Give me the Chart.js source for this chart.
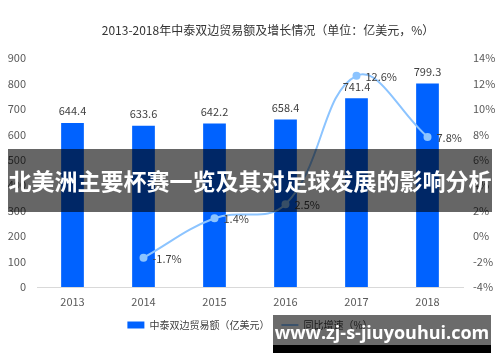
<!DOCTYPE html>
<html>
<head>
    <title>中泰双边贸易额</title>
    <script src="https://cdn.jsdelivr.net/npm/chart.js"></script>
    <style>
        body { margin: 0; background: #fff; font-family: "Noto Sans CJK SC", sans-serif; }
        #wrap { position: relative; width: 500px; height: 362px; }
        #title { position: absolute; left: 0; width: 536px; top: 21px; text-align: center;
                 font-size: 12px; color: #333; }
        #banner { position: absolute; left: 8px; top: 149px; width: 484px; height: 63px;
                  background: rgba(0,0,0,0.6); color: #fff; font-weight: bold; font-size: 23px;
                  line-height: 63px; text-align: center; white-space: nowrap; }
        #mark { position: absolute; left: 273px; top: 315px; width: 218px; height: 30px;
                background: rgba(0,0,0,0.58); }
        #markText { position: absolute; left: 273px; top: 315px; width: 218px; height: 30px;
                    color: #fff; font: bold 18px "Open Sans", sans-serif; text-align: center; line-height: 34px; }
        #markBar { position: absolute; left: 273px; top: 345px; width: 218px; height: 8px; background: #000; }
    </style>
</head>
<body>
<div id="wrap">
    <canvas id="chart" width="500" height="362"></canvas>
    <div id="title">2013-2018年中泰双边贸易额及增长情况（单位：亿美元，%）</div>
    <div id="banner">北美洲主要杯赛一览及其对足球发展的影响分析</div>
    <div id="mark"></div>
    <div id="markText">www.zj-s-jiuyouhui.com</div>
    <div id="markBar"></div>
</div>

<script>
    const years = ['2013', '2014', '2015', '2016', '2017', '2018'];
    const trade = [644.4, 633.6, 642.2, 658.4, 741.4, 799.3];
    const growth = [null, -1.7, 1.4, 2.5, 12.6, 7.8];
    const tradeLabel = '中泰双边贸易额（亿美元）';
    const growthLabel = '同比增速（%）';

    const font = "'Noto Sans CJK SC', sans-serif";

    // value labels above bars / right of points
    const valueLabels = {
        id: 'valueLabels',
        afterDatasetsDraw(chart) {
            const ctx = chart.ctx;
            ctx.save();
            ctx.font = '11px ' + font;
            ctx.fillStyle = '#404040';
            ctx.textBaseline = 'middle';
            chart.getDatasetMeta(0).data.forEach((el, i) => {
                ctx.textAlign = 'center';
                ctx.fillText(trade[i].toFixed(1), el.x, el.y - 12);
            });
            chart.getDatasetMeta(1).data.forEach((el, i) => {
                if (growth[i] === null) return;
                ctx.textAlign = 'left';
                ctx.fillText(growth[i] + '%', el.x + 9, el.y + 1);
            });
            ctx.restore();
        }
    };

    new Chart(document.getElementById('chart'), {
        data: {
            labels: years,
            datasets: [
                {
                    type: 'bar',
                    label: tradeLabel,
                    data: trade,
                    backgroundColor: '#0062ff',
                    yAxisID: 'y',
                    order: 1,
                    categoryPercentage: 1,
                    barPercentage: 0.32
                },
                {
                    type: 'line',
                    label: growthLabel,
                    data: growth,
                    borderColor: '#8cc4ff',
                    backgroundColor: '#8cc4ff',
                    borderWidth: 2,
                    pointRadius: 3,
                    tension: 0.4,
                    yAxisID: 'y1',
                    order: 0
                }
            ]
        },
        options: {
            responsive: false,
            animation: false,
            layout: { padding: { top: 58, bottom: 22, left: 0, right: 0 } },
            plugins: {
                tooltip: { enabled: false },
                legend: {
                    position: 'bottom',
                    labels: {
                        usePointStyle: true,
                        pointStyleWidth: 17,
                        boxHeight: 7,
                        padding: 12,
                        color: '#404040',
                        font: { family: font, size: 10 },
                        generateLabels: (chart) => [
                            { text: tradeLabel, fillStyle: '#0062ff', strokeStyle: '#0062ff', lineWidth: 0, pointStyle: 'rect', datasetIndex: 0, fontColor: '#404040' },
                            { text: growthLabel, fillStyle: '#8cc4ff', strokeStyle: '#8cc4ff', lineWidth: 2, pointStyle: 'line', datasetIndex: 1, fontColor: '#404040' }
                        ]
                    }
                }
            },
            scales: {
                x: {
                    grid: { display: false, drawTicks: false },
                    border: { color: '#d9d9d9' },
                    ticks: { color: '#595959', padding: 8, font: { family: font, size: 11 } },
                    afterFit: (scale) => { scale.height = 21; }
                },
                y: {
                    position: 'left',
                    min: 0,
                    max: 900,
                    grid: { display: false, drawTicks: false },
                    border: { display: false },
                    ticks: { stepSize: 100, color: '#595959', padding: 11, font: { family: font, size: 11 } },
                    afterFit: (scale) => { scale.width = 37; }
                },
                y1: {
                    position: 'right',
                    min: -4,
                    max: 14,
                    grid: { display: false, drawTicks: false },
                    border: { display: false },
                    ticks: { stepSize: 2, color: '#595959', padding: 10, font: { family: font, size: 11 },
                             callback: v => v + '%' },
                    afterFit: (scale) => { scale.width = 37; }
                }
            }
        },
        plugins: [valueLabels]
    });
</script>
</body>
</html>
